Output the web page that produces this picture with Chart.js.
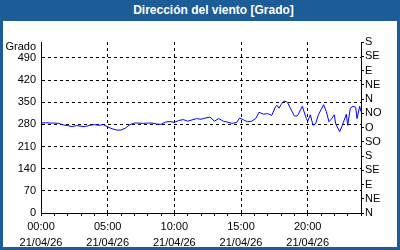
<!DOCTYPE html>
<html>

<head>
    <meta charset="utf-8">
    <title>Dirección del viento</title>
    <script src="https://cdn.jsdelivr.net/npm/chart.js"></script>
    <style>
        body { margin: 0; background: #ffffff; }
        .marco {
            width: 394px; height: 226px;
            border: 3px solid #1c5c97; border-top: 0;
            background: #ffffff;
        }
        .titulo {
            width: 400px; height: 21px; background: #1c5c97; color: #ffffff;
            font: bold 12px "Liberation Sans", Arial, sans-serif;
            line-height: 20px; text-align: center; box-sizing: border-box; padding-left: 27px;
        }
    </style>
</head>

<body>
    <div class="titulo">Dirección del viento [Grado]</div>
    <div class="marco">
        <canvas id="viento" width="394" height="226"></canvas>
    </div>

    <script>
        // hora del día (decimal) y dirección en grados
        const horas = [0, 0.33, 0.67, 1, 1.33, 1.67, 2, 2.33, 2.67, 3, 3.33, 3.67, 4, 4.33, 4.67, 5, 5.33, 5.67,
            6, 6.33, 6.67, 7, 7.33, 7.67, 8, 8.33, 8.67, 9, 9.33, 9.67, 10, 10.33, 10.67, 11, 11.33, 11.67,
            12, 12.33, 12.67, 13, 13.33, 13.67, 14, 14.33, 14.67, 14.9, 15.2, 15.5, 15.8, 16.1, 16.35, 16.7,
            17, 17.3, 17.6, 17.7, 17.85, 18, 18.2, 18.4, 18.5, 18.7, 19, 19.2, 19.3, 19.6, 19.9, 20, 20.2,
            20.4, 20.6, 20.8, 21, 21.2, 21.4, 21.6, 21.8, 22, 22.1, 22.4, 22.6, 22.9, 23, 23.2, 23.4, 23.6,
            23.7, 23.9, 24];
        const grados = [284, 285, 284, 284, 283, 278, 276, 273, 276, 274, 273, 277, 279, 277, 279, 272, 266, 262,
            262, 268, 279, 284, 284, 283, 284, 284, 281, 280, 287, 289, 286, 292, 295, 290, 294, 298,
            296, 300, 303, 290, 298, 290, 287, 283, 286, 300, 294, 288, 290, 298, 318, 312,
            314, 308, 336, 340, 331, 342, 353, 352, 348, 331, 307, 306, 312, 337, 298, 290, 310,
            277, 282, 310, 326, 342, 320, 288, 298, 310, 282, 257, 277, 312, 277, 331, 337, 334,
            298, 337, 320];

        const ticksGrado = [0, 70, 140, 210, 280, 350, 420, 490];
        const ticksRumbo = [0, 45, 90, 135, 180, 225, 270, 315, 360, 405, 450, 495, 540];
        const rumbos = ['N', 'NE', 'E', 'SE', 'S', 'SO', 'O', 'NO', 'N', 'NE', 'E', 'SE', 'S'];
        const etiquetasHora = ['00:00', '05:00', '10:00', '15:00', '20:00'];
        const fecha = '21/04/26';

        const fuente = { family: '"Liberation Sans", Arial, sans-serif', size: 11 };

        new Chart(document.getElementById('viento'), {
            type: 'line',
            data: {
                datasets: [{
                    data: horas.map((h, i) => ({ x: h, y: grados[i] })),
                    borderColor: '#0000ff',
                    borderWidth: 1,
                    pointRadius: 0,
                    tension: 0,
                    yAxisID: 'y'
                }]
            },
            options: {
                responsive: false,
                animation: false,
                layout: { padding: { top: 21, left: 0, right: 0, bottom: 0 } },
                plugins: { legend: { display: false }, tooltip: { enabled: false } },
                scales: {
                    x: {
                        type: 'linear', min: 0, max: 24,
                        afterBuildTicks: s => { s.ticks = Array.from({ length: 25 }, (_, i) => ({ value: i })); },
                        afterFit: s => { s.height = 34; },
                        ticks: {
                            autoSkip: false, maxRotation: 0, color: '#000',
                            font: { family: fuente.family, size: 11, lineHeight: 1.45 }, padding: 3,
                            callback: v => v % 5 === 0 && v < 24 ? [etiquetasHora[v / 5], fecha] : ''
                        },
                        grid: {
                            color: c => (c.tick && c.tick.value % 5 === 0 && c.tick.value > 0 && c.tick.value < 24) ? '#000' : 'rgba(0,0,0,0)',
                            tickColor: '#000', tickLength: 3
                        },
                        border: { color: '#000', dash: [3, 3] }
                    },
                    y: {
                        position: 'left', min: 0, max: 540,
                        afterBuildTicks: s => {
                            s.ticks = ticksGrado.map(v => ({ value: v }));
                            s.ticks.push({ value: 525 });
                        },
                        afterFit: s => { s.width = 38; },
                        ticks: {
                            autoSkip: false, color: '#000', font: fuente, padding: 5,
                            callback: v => v === 525 ? 'Grado' : v
                        },
                        grid: {
                            drawTicks: false,
                            color: c => (c.tick && c.tick.value > 0 && c.tick.value <= 490) ? '#000' : 'rgba(0,0,0,0)'
                        },
                        border: { color: '#000', dash: [3, 3] }
                    },
                    y2: {
                        position: 'right', min: 0, max: 540,
                        afterBuildTicks: s => { s.ticks = ticksRumbo.map(v => ({ value: v })); },
                        afterFit: s => { s.width = 36; },
                        ticks: {
                            autoSkip: false, color: '#000', font: fuente, padding: 1,
                            callback: (v, i) => rumbos[i]
                        },
                        grid: { drawOnChartArea: false, color: '#000', tickLength: 3 },
                        border: { color: '#000' }
                    }
                }
            }
        });
    </script>
</body>

</html>
